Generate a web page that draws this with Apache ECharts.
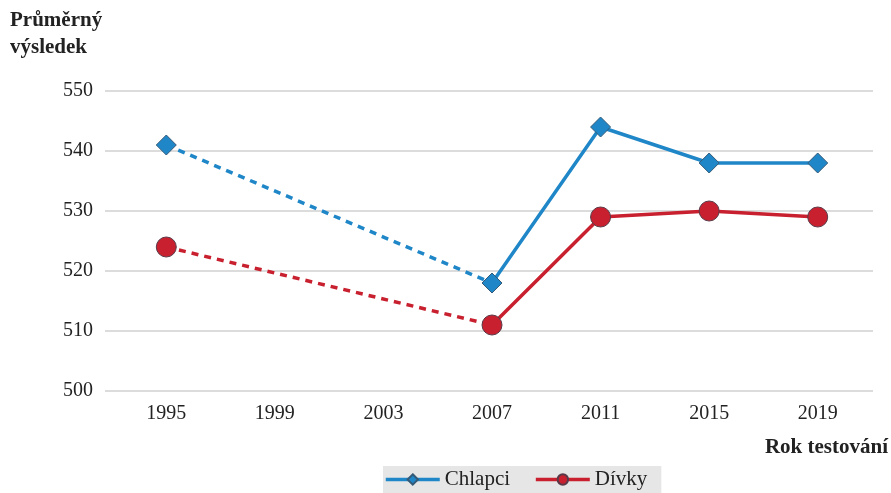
<!DOCTYPE html>
<html><head><meta charset="utf-8">
<script src="https://cdn.jsdelivr.net/npm/echarts@6/dist/echarts.min.js"></script>
<style>html,body{margin:0;padding:0;background:#fff}#c{width:891px;height:493px}</style>
</head><body><div id="c"></div>
<script>
const years = ['1995','1999','2003','2007','2011','2015','2019'];
const boys  = [541, null, null, 518, 544, 538, 538];
const girls = [524, null, null, 511, 529, 530, 529];
const yTicks = [500, 510, 520, 530, 540, 550];

const blue = '#1f87c8', red = '#c8202e';
const font = 'Liberation Serif';
function dashedPart(arr){ return arr.map((v,i)=> i<=3 ? v : null); }
const yMin = yTicks[0], yMax = yTicks[yTicks.length-1];
const chart = echarts.init(document.getElementById('c'));
chart.setOption({
  animation:false,
  textStyle:{fontFamily:font},
  grid:[
    {left:105, right:18, top:91, bottom:102},
    {left:112, right:19, top:91, bottom:102}
  ],
  legend:{
    data:['Chlapci','Dívky'], bottom:0, left:383,
    backgroundColor:'#e6e6e6', padding:[3,14,3,1], itemGap:24,
    itemWidth:54, itemHeight:13,
    lineStyle:{width:3.5},
    textStyle:{fontFamily:font, fontSize:21, color:'#222'}
  },
  xAxis:[
    {type:'category', gridIndex:0, data:years, show:false},
    {type:'category', gridIndex:1, data:years, boundaryGap:true,
      axisLine:{show:false}, axisTick:{show:false},
      axisLabel:{fontFamily:font, fontSize:20, color:'#222', margin:13}}
  ],
  yAxis:[
    {type:'value', gridIndex:0, min:yMin, max:yMax, interval:10,
      axisLine:{show:false}, axisTick:{show:false},
      axisLabel:{fontFamily:font, fontSize:20, color:'#222', margin:12},
      splitLine:{lineStyle:{color:'#d0d0d0', width:1.5}}},
    {type:'value', gridIndex:1, min:yMin, max:yMax, interval:10,
      axisLine:{show:false}, axisTick:{show:false}, axisLabel:{show:false}, splitLine:{show:false}}
  ],
  graphic:[
    {type:'text', left:10, top:7, style:{text:'Průměrný\nvýsledek', fontFamily:font, fontSize:21, fontWeight:'bold', fill:'#222', lineHeight:27}},
    {type:'text', right:3, top:437, style:{text:'Rok testování', fontFamily:font, fontSize:21, fontWeight:'bold', fill:'#222'}}
  ],
  series:[
    {name:'Chlapci-d', type:'line', xAxisIndex:1, yAxisIndex:1, data:dashedPart(boys), connectNulls:true, symbol:'none', silent:true,
      lineStyle:{color:blue, width:3.5, type:[7,6]}, z:1},
    {name:'Dívky-d', type:'line', xAxisIndex:1, yAxisIndex:1, data:dashedPart(girls), connectNulls:true, symbol:'none', silent:true,
      lineStyle:{color:red, width:3.5, type:[7,6]}, z:1},
    {name:'Chlapci', type:'line', xAxisIndex:1, yAxisIndex:1, data:boys, connectNulls:false, symbol:'diamond', symbolSize:20,
      itemStyle:{color:blue, borderColor:'#355a78', borderWidth:1}, lineStyle:{color:blue, width:3.5}, z:3},
    {name:'Dívky', type:'line', xAxisIndex:1, yAxisIndex:1, data:girls, connectNulls:false, symbol:'circle', symbolSize:20,
      itemStyle:{color:red, borderColor:'#5a3a48', borderWidth:1}, lineStyle:{color:red, width:3.5}, z:2}
  ]
});
</script></body></html>
